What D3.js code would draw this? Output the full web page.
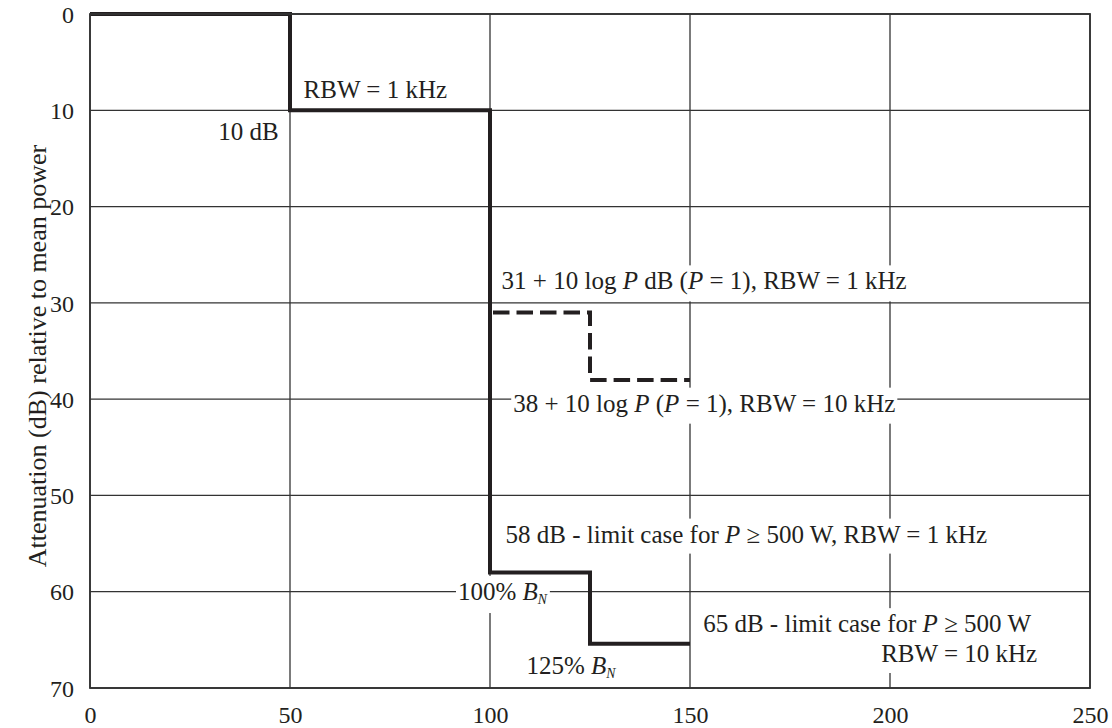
<!DOCTYPE html>
<html>
<head>
	<meta charset="utf-8">
	<title>Spectrum mask</title>
	<script type="text/javascript" src="https://cdn.jsdelivr.net/npm/d3@7"></script>
	<style>
		body {
			margin: 0;
			background: #fff;
		}
		svg, svg text, svg tspan {
			font-family: "Liberation Serif", "DejaVu Serif", serif !important;
		}
	</style>
</head>

<body>

	<div id="chart"></div>

	<script>

	// data

	const xTicks = [0, 50, 100, 150, 200, 250];
	const yTicks = [0, 10, 20, 30, 40, 50, 60, 70];

	// solid mask: frequency offset (% of B_N), attenuation (dB)
	const solidFreq  = [0, 50, 100, 125, 150];
	const solidAtten = [0, 10, 58, 65.4, 65.4];

	// dashed mask for P = 1
	const dashFreq  = [100, 125, 150];
	const dashAtten = [31, 38, 38];

	// annotations, anchored in data units
	const labelText   = [
		"RBW = 1 kHz",
		"10 dB",
		"31 + 10 log <i>P</i> dB (<i>P</i> = 1), RBW = 1 kHz",
		"38 + 10 log <i>P</i> (<i>P</i> = 1), RBW = 10 kHz",
		"58 dB - limit case for <i>P</i> ≥ 500 W, RBW = 1 kHz",
		"100% <i>B</i><sub>N</sub>",
		"125% <i>B</i><sub>N</sub>",
		"65 dB - limit case for <i>P</i> ≥ 500 W",
		"RBW = 10 kHz"
	];
	const labelX      = [53.4, 47.2, 102.9, 105.8, 103.9, 92.0, 109.1, 153.3, 236.8];
	const labelY      = [8.75, 13.1, 28.6, 41.3, 54.9, 60.85, 68.5, 64.2, 67.3];
	const labelAnchor = ["start", "end", "start", "start", "start", "start", "start", "start", "end"];
	const labelMask   = [false, false, true, true, true, true, false, true, true];

	const yLabel = "Attenuation (dB) relative to mean power";

	// customization

	const width        = 1112;
	const height       = 728;
	const marginLeft   = 90;
	const marginRight  = 22;
	const marginTop    = 14;
	const marginBottom = 40;
	const ink          = "#231f20";
	const gridColor    = "#333333";
	const serif        = "'Liberation Serif', 'DejaVu Serif', serif";
	const fontSize     = 25;
	const tickFont     = 24;

	const x = d3.scaleLinear().domain([0, 250]).range([marginLeft, width - marginRight]);
	const y = d3.scaleLinear().domain([0, 70]).range([marginTop, height - marginBottom]);

	const svg = d3.select("#chart")
		.append("svg")
		.attr("width", width)
		.attr("height", height)
		.attr("viewBox", [0, 0, width, height])
		.attr("font-family", serif);

	// grid
	const grid = svg.append("g")
		.attr("stroke", gridColor)
		.attr("stroke-width", 1.3);

	grid.selectAll("line.v")
		.data(xTicks)
		.join("line")
		.attr("class", "v")
		.attr("x1", d => x(d)).attr("x2", d => x(d))
		.attr("y1", y(0)).attr("y2", y(70));

	grid.selectAll("line.h")
		.data(yTicks)
		.join("line")
		.attr("class", "h")
		.attr("x1", x(0)).attr("x2", x(250))
		.attr("y1", d => y(d)).attr("y2", d => y(d));

	// axes (labels only)
	svg.append("g")
		.attr("transform", `translate(${x(0) - 16},0)`)
		.call(d3.axisLeft(y).tickValues(yTicks).tickSize(0).tickPadding(0))
		.call(g => g.attr("font-family", serif).attr("font-size", tickFont))
		.call(g => g.select(".domain").remove())
		.call(g => g.selectAll("text").attr("dy", "0.34em"));

	svg.append("g")
		.attr("transform", `translate(0,${y(70) + 18})`)
		.call(d3.axisBottom(x).tickValues(xTicks).tickSize(0).tickPadding(0))
		.call(g => g.attr("font-family", serif).attr("font-size", tickFont))
		.call(g => g.select(".domain").remove())
		.call(g => g.selectAll("text").attr("dy", "0.7em"));

	svg.selectAll(".tick text").attr("fill", ink);

	// y axis title
	svg.append("text")
		.attr("transform", `translate(46,356) rotate(-90)`)
		.attr("text-anchor", "middle")
		.attr("fill", ink)
		.attr("font-size", 26)
		.text(yLabel);

	// annotations: build text from small markup
	const masks = svg.append("g");
	const notes = svg.append("g")
		.attr("font-size", fontSize)
		.attr("fill", ink);

	function addRich(sel, html) {
		const parts = html.split(/(<i>.*?<\/i>|<sub>.*?<\/sub>)/).filter(s => s !== "");
		parts.forEach(p => {
			if (p.startsWith("<i>")) {
				sel.append("tspan").attr("font-style", "italic").text(p.slice(3, -4));
			} else if (p.startsWith("<sub>")) {
				sel.append("tspan")
					.attr("baseline-shift", "-0.3em")
					.attr("font-size", "0.55em")
					.attr("font-style", "italic")
					.text(p.slice(5, -6));
			} else {
				sel.append("tspan").text(p);
			}
		});
	}

	labelText.forEach((t, i) => {
		const node = notes.append("text")
			.attr("x", x(labelX[i]))
			.attr("y", y(labelY[i]))
			.attr("text-anchor", labelAnchor[i]);
		addRich(node, t);
		if (labelMask[i]) {
			const b = node.node().getBBox();
			masks.append("rect")
				.attr("x", b.x - 2)
				.attr("y", b.y - 2)
				.attr("width", b.width + 4)
				.attr("height", b.height + 8)
				.attr("fill", "#fff");
		}
	});

	// mask lines
	const line = d3.line()
		.curve(d3.curveStepAfter)
		.x(d => x(d[0]))
		.y(d => y(d[1]));

	svg.append("path")
		.attr("fill", "none")
		.attr("stroke", ink)
		.attr("stroke-width", 4)
		.attr("d", line(d3.zip(solidFreq, solidAtten)));

	svg.append("path")
		.attr("fill", "none")
		.attr("stroke", ink)
		.attr("stroke-width", 4)
		.attr("stroke-dasharray", "16.5,7")
		.attr("stroke-dashoffset", 20.5)
		.attr("d", line(d3.zip(dashFreq, dashAtten)));

	// frame
	svg.append("rect")
		.attr("x", x(0))
		.attr("y", y(0))
		.attr("width", x(250) - x(0))
		.attr("height", y(70) - y(0))
		.attr("fill", "none")
		.attr("stroke", gridColor)
		.attr("stroke-width", 1.8);

	</script>

</body>

</html>
